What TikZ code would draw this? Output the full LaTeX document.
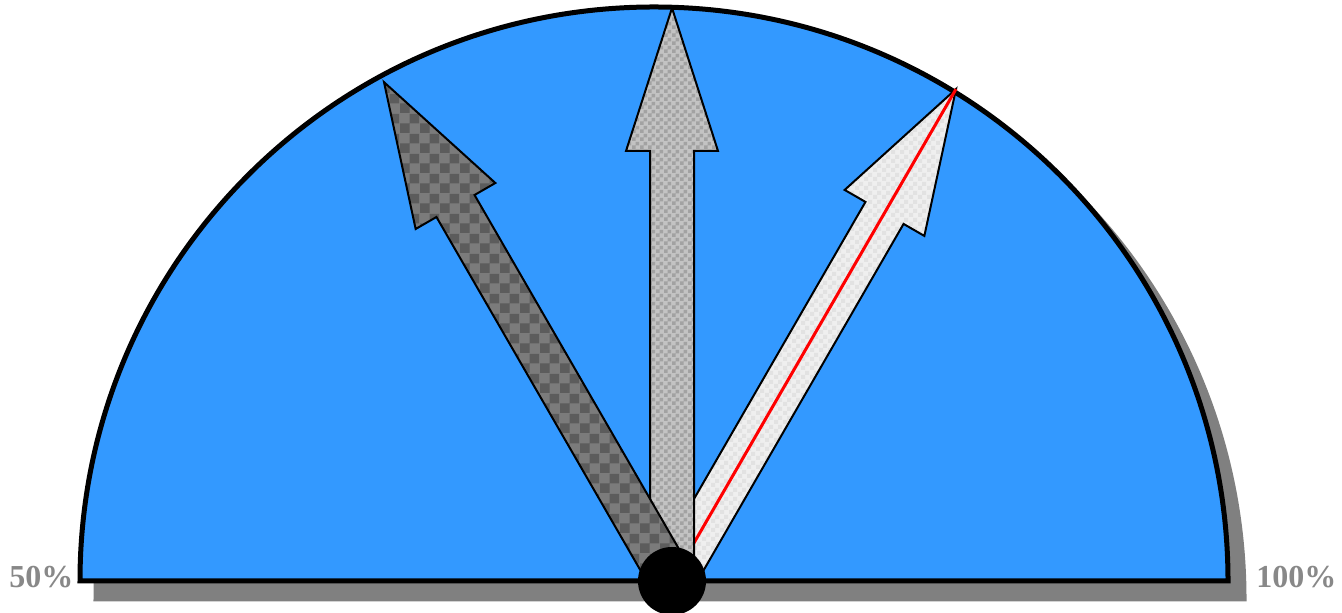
\documentclass[tikz,border=0pt]{standalone}
\usepackage{fontspec}
\setmainfont{Liberation Serif}
\usetikzlibrary{calc,patterns}
\definecolor{dialblue}{HTML}{3399FF}
\definecolor{shadowgray}{HTML}{808080}
\definecolor{labelgray}{HTML}{888888}
\definecolor{darkA}{HTML}{5C5C5C}
\definecolor{darkB}{HTML}{7B7B7B}
\definecolor{midA}{HTML}{A2A2A2}
\definecolor{midB}{HTML}{C3C3C3}
\definecolor{lightA}{HTML}{E2E2E2}
\definecolor{lightB}{HTML}{EFEFEF}
\pgfdeclarepatternformonly{chkbig}{\pgfpointorigin}{\pgfqpoint{10pt}{10pt}}{\pgfqpoint{10pt}{10pt}}{%
  \pgfpathrectangle{\pgfpointorigin}{\pgfqpoint{5pt}{5pt}}%
  \pgfpathrectangle{\pgfqpoint{5pt}{5pt}}{\pgfqpoint{5pt}{5pt}}%
  \pgfusepath{fill}}
\pgfdeclarepatternformonly{chksmall}{\pgfpointorigin}{\pgfqpoint{4pt}{4pt}}{\pgfqpoint{4pt}{4pt}}{%
  \pgfpathrectangle{\pgfpointorigin}{\pgfqpoint{2pt}{2pt}}%
  \pgfpathrectangle{\pgfqpoint{2pt}{2pt}}{\pgfqpoint{2pt}{2pt}}%
  \pgfusepath{fill}}
\pgfdeclarepatternformonly{chklight}{\pgfpointorigin}{\pgfqpoint{4.5pt}{4.5pt}}{\pgfqpoint{4.5pt}{4.5pt}}{%
  \pgfpathrectangle{\pgfpointorigin}{\pgfqpoint{2.25pt}{2.25pt}}%
  \pgfpathrectangle{\pgfqpoint{2.25pt}{2.25pt}}{\pgfqpoint{2.25pt}{2.25pt}}%
  \pgfusepath{fill}}
\newcommand\gaugearrow[3]{%
  \path[#3]
    ($(P)+(#1-90:22)$) --
    ($(P)+(#1:#2-143)+(#1-90:22)$) --
    ($(P)+(#1:#2-143)+(#1-90:46)$) --
    ($(P)+(#1:#2)$) --
    ($(P)+(#1:#2-143)+(#1+90:46)$) --
    ($(P)+(#1:#2-143)+(#1+90:22)$) --
    ($(P)+(#1+90:22)$) -- cycle;}
\tikzset{
  arrowbase/.style={draw=black, line width=1pt, line join=miter},
  darkarrow/.style={arrowbase, preaction={fill=darkB}, pattern=chkbig, pattern color=darkA},
  midarrow/.style={arrowbase, preaction={fill=midB}, pattern=chksmall, pattern color=midA},
  lightarrow/.style={arrowbase, preaction={fill=lightB}, pattern=chklight, pattern color=lightA},
  dial/.style={line width=2.5pt, line join=miter},
  scalelabel/.style={text=labelgray, font=\fontsize{16}{19}\selectfont\bfseries, inner sep=0pt, anchor=base west}
}
\begin{document}
\begin{tikzpicture}[x=0.5pt, y=0.5pt]
\useasboundingbox (0,0) rectangle (1342,613);
\coordinate (C) at (654,32);
\coordinate (P) at (672,32);
\coordinate (S) at (670,14);
% shadow
\filldraw[dial, fill=shadowgray, draw=shadowgray] ($(S)+(-574,0)$) arc[start angle=180, end angle=0, radius=574] -- cycle;
% dial face
\filldraw[dial, fill=dialblue, draw=black] ($(C)+(-574,0)$) arc[start angle=180, end angle=0, radius=574] -- cycle;
% arrows
\gaugearrow{60}{568}{lightarrow}
\coordinate (RT) at ($(P)+(60:568)$);
\draw[red, line width=1.5pt] (P) -- (RT);
\gaugearrow{90}{573}{midarrow}
\gaugearrow{120}{576}{darkarrow}
% pivot
\fill[black] (P) circle (34);
% labels
\node[scalelabel] (low) at (9,25) {50\%};
\node[scalelabel] (high) at (1256,25) {100\%};
\end{tikzpicture}
\end{document}
